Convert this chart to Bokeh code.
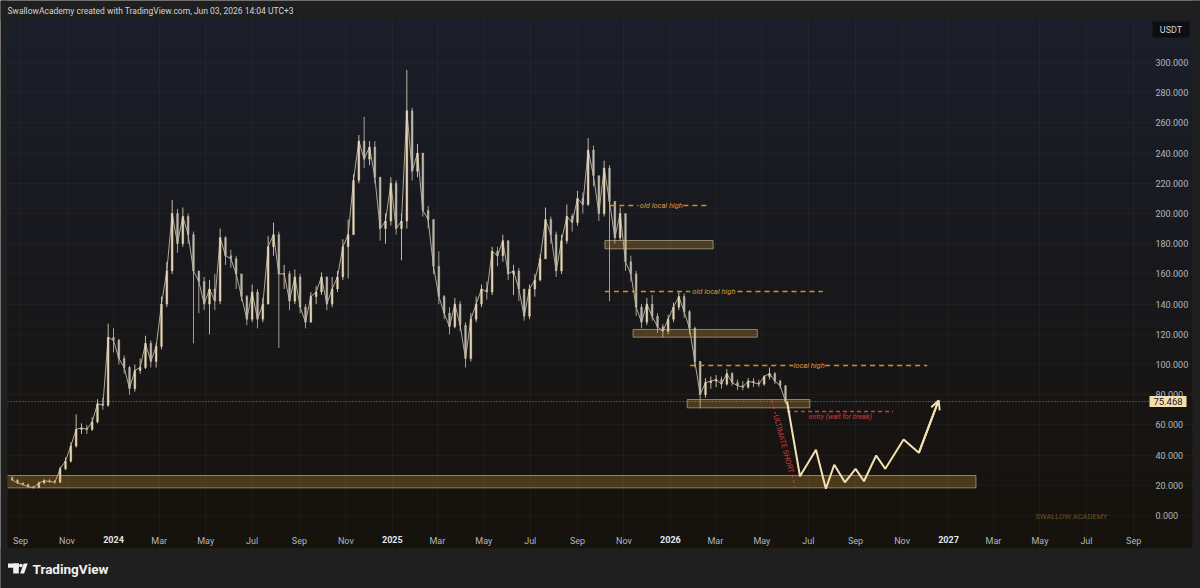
import math
import pandas as pd
from bokeh.plotting import figure
from bokeh.models import (Range1d, LinearAxis, FixedTicker, Grid, BoxAnnotation,
                          Label, Arrow, OpenHead, ColumnDataSource, PolyAnnotation)
from bokeh.core.properties import value
from bokeh.embed import file_html
from bokeh.resources import INLINE

# ---------------- data ----------------
first_week = "2023-08-21"          # weekly bars
first_open = 25.0
close = [23.5, 21.5, 20.5, 19, 18.5, 21.5, 23, 22.5, 22, 31,
         36, 46, 57, 58, 57, 62, 74, 73, 118, 116,
         104, 98, 84, 96, 98, 114, 102, 112, 140, 162,
         200, 180, 198, 186, 162, 155, 140, 150, 142, 184,
         172, 170, 160, 145, 130, 148, 130, 140, 178, 186,
         160, 160, 142, 158, 138, 128, 145, 148, 158, 140,
         150, 158, 178, 186, 222, 248, 236, 244, 224, 190,
         195, 220, 190, 195, 268, 228, 240, 202, 196, 165,
         145, 134, 125, 140, 126, 104, 130, 140, 150, 148,
         175, 172, 182, 160, 162, 150, 132, 150, 156, 170,
         196, 186, 162, 182, 198, 194, 210, 206, 242, 225,
         200, 230, 208, 184, 200, 168, 160, 138, 128, 140,
         132, 125, 122, 130, 138, 145, 135, 124, 102, 80,
         88, 89, 90, 87, 94, 88, 86, 85, 89, 88,
         87, 92, 94, 89, 86, 75.468]
high = [26, 24, 22, 21, 19.5, 22.5, 24, 24, 23.5, 32.5,
        38.5, 48.5, 67, 61, 60, 65, 77, 78, 127, 124,
        117, 106, 99, 100, 104, 119, 116, 114, 145, 168,
        209, 203, 204, 200, 188, 160, 158, 156, 160, 190,
        185, 176, 172, 160, 146, 153, 150, 144, 185, 194,
        188, 166, 162, 163, 160, 140, 148, 152, 161, 158,
        158, 162, 183, 196, 226, 252, 264, 248, 248, 224,
        200, 224, 222, 200, 295, 270, 246, 240, 205, 196,
        175, 146, 138, 144, 142, 128, 134, 145, 153, 155,
        178, 178, 186, 182, 166, 164, 150, 153, 160, 173,
        204, 198, 188, 186, 206, 200, 215, 214, 250, 245,
        225, 235, 232, 208, 204, 200, 172, 162, 140, 144,
        146, 134, 127, 133, 141, 148, 147, 136, 125, 102,
        91, 92, 93, 92, 97, 95, 90, 89, 91, 91,
        90, 93, 98, 95, 90, 86]
low = [23, 21, 20, 18.5, 17.8, 18.3, 21, 21.5, 21, 21.5,
       30, 35, 45, 54, 54, 56, 61, 70, 72, 108,
       100, 94, 80, 82, 94, 97, 98, 98, 110, 138,
       160, 174, 178, 180, 114, 134, 136, 120, 136, 140,
       166, 164, 150, 142, 126, 128, 124, 128, 140, 172,
       111, 150, 136, 140, 134, 124, 128, 140, 146, 136,
       138, 148, 156, 157, 186, 220, 230, 232, 220, 182,
       180, 192, 186, 169, 190, 222, 224, 198, 190, 160,
       140, 130, 120, 124, 122, 98, 102, 128, 138, 143,
       146, 165, 168, 156, 146, 142, 129, 130, 145, 155,
       170, 180, 158, 160, 180, 188, 192, 200, 205, 218,
       195, 198, 142, 180, 182, 162, 155, 132, 124, 126,
       129, 121, 118, 120, 128, 136, 131, 120, 98, 71,
       78, 84, 85, 84, 86, 86, 83, 83, 84, 85,
       85, 86, 90, 87, 84, 74]
last_price = 75.468

tick_dates = ["2023-09-01", "2023-11-01", "2024-01-01", "2024-03-01", "2024-05-01",
              "2024-07-01", "2024-09-01", "2024-11-01", "2025-01-01", "2025-03-01",
              "2025-05-01", "2025-07-01", "2025-09-01", "2025-11-01", "2026-01-01",
              "2026-03-01", "2026-05-01", "2026-07-01", "2026-09-01", "2026-11-01",
              "2027-01-01", "2027-03-01", "2027-05-01", "2027-07-01", "2027-09-01"]
tick_labels = ["Sep", "Nov", "2024", "Mar", "May", "Jul", "Sep", "Nov", "2025", "Mar",
               "May", "Jul", "Sep", "Nov", "2026", "Mar", "May", "Jul", "Sep", "Nov",
               "2027", "Mar", "May", "Jul", "Sep"]
price_ticks = [0, 20, 40, 60, 80, 100, 120, 140, 160, 180, 200, 220, 240, 260, 280, 300]
price_labels = ["0.000", "20.000", "40.000", "60.000", "80.000", "100.000", "120.000",
                "140.000", "160.000", "180.000", "200.000", "220.000", "240.000",
                "260.000", "280.000", "300.000"]

# rectangles (zones)
zone_left = ["2023-08-01", "2025-10-07", "2025-11-13", "2026-01-23"]
zone_right = ["2027-02-06", "2026-02-26", "2026-04-25", "2026-07-03"]
zone_top = [26.5, 182.1, 123.2, 76.8]
zone_bottom = [18.3, 176.6, 118.1, 71.3]

# horizontal levels with a text in a gap
level_text = ["old local high", "old local high", "local high"]
level_price = [205.3, 148.3, 99.3]
level_start = ["2025-10-14", "2025-10-07", "2026-01-27"]
level_end = ["2026-02-20", "2026-07-20", "2026-12-04"]
level_gap_from = ["2025-11-20", "2026-01-27", "2026-06-11"]
level_gap_to = ["2026-01-18", "2026-03-30", "2026-07-23"]
level_text_at = ["2025-12-20", "2026-02-27", "2026-07-02"]

# entry line
entry_text = "entry (wait for break)"
entry_price = 68.9
entry_start, entry_end = "2026-06-03", "2026-10-20"
entry_text_at, entry_text_price = "2026-08-12", 65.2

# ULTIMATE SHORT diagonal
short_text = "ULTIMATE SHORT"
short_dates = ["2026-05-14", "2026-06-14"]
short_price = [76.2, 18.5]
short_gap = [0.15, 0.85]

# projected path
path_dates = ["2026-06-03", "2026-06-20", "2026-07-11", "2026-07-24", "2026-08-04",
              "2026-08-18", "2026-09-01", "2026-09-12", "2026-09-28", "2026-10-10",
              "2026-11-03", "2026-11-23", "2026-12-19"]
path_price = [75.5, 26.0, 43.5, 17.7, 33.6, 22.0, 30.9, 22.7, 39.7, 30.9, 50.3, 41.5, 76.2]

header_text = "SwallowAcademy created with TradingView.com, Jun 03, 2026 14:04 UTC+3"
watermark_text = "SWALLOW ACADEMY"

# ---------------- scales (reference pixel geometry) ----------------
DAY = 86400000.0
ORIGIN = pd.Timestamp("2024-01-01").value / 1e6    # ms of the 2024 tick
PX_DAY = 0.7619          # pixels per day
PX_UNIT = 1.51           # pixels per price unit
X_ORIGIN_PX = 113.0      # 2024-01-01 on the picture
Y_ZERO_PX = 515.0        # price 0 on the picture


def ms(s):
    return pd.Timestamp(s).value / 1e6


def rx(px):   # picture x -> data x
    return ORIGIN + (px - X_ORIGIN_PX) / PX_DAY * DAY


def ry(py):   # picture y -> data y
    return (Y_ZERO_PX - py) / PX_UNIT


W, H = 1200, 588
x_start, x_end = rx(0), rx(W)
y_start, y_end = ry(H), ry(0)

chart_left, chart_right = rx(7), rx(1192)
chart_top, chart_bottom = ry(19), ry(548)
price_axis_x = rx(1148)
time_axis_y = ry(527)

GRAY = "#1f1f1f"
p = figure(width=W, height=H, output_backend="svg", toolbar_location=None,
           x_axis_type=None, y_axis_type=None,
           x_range=Range1d(x_start, x_end), y_range=Range1d(y_start, y_end),
           min_border=0, min_border_left=0, min_border_right=0,
           min_border_top=0, min_border_bottom=0,
           background_fill_color=GRAY, border_fill_color=GRAY,
           outline_line_color=None)


def hex2rgb(h):
    h = h.lstrip("#")
    return tuple(int(h[i:i + 2], 16) for i in (0, 2, 4))


def mix(c1, c2, t):
    a, b = hex2rgb(c1), hex2rgb(c2)
    return "#%02x%02x%02x" % tuple(round(a[i] + (b[i] - a[i]) * t) for i in range(3))


TOP_C, BOT_C = "#1a1e2a", "#16120c"
N = 60
step = (chart_top - chart_bottom) / N
for i in range(N):
    t = chart_top - i * step
    b = t - step
    p.add_layout(BoxAnnotation(left=chart_left, right=chart_right,
                               top=t, bottom=b - (0.6 if i < N - 1 else 0),
                               fill_color=mix(TOP_C, BOT_C, (i + 0.5) / N), fill_alpha=1.0,
                               line_color=None, level="image"))

xticks = [ms(d) for d in tick_dates]
p.add_layout(Grid(dimension=0, ticker=FixedTicker(ticks=xticks),
                  grid_line_color="#ffffff", grid_line_alpha=0.03))
p.add_layout(Grid(dimension=1, ticker=FixedTicker(ticks=price_ticks),
                  grid_line_color="#ffffff", grid_line_alpha=0.03))

# gray frame around the chart panel, on top of the grid
for kw in (dict(bottom=chart_top), dict(top=chart_bottom),
           dict(right=chart_left), dict(left=chart_right)):
    p.add_layout(BoxAnnotation(fill_color=GRAY, fill_alpha=1, line_color=None, level="glyph", **kw))

# axes (drawn inside the chart panel, like TradingView scales)
AX = dict(axis_line_color=None, major_tick_line_color=None, minor_tick_line_color=None,
          major_label_text_font="Roboto", major_label_text_font_size="9px")
is_year = [l.isdigit() for l in tick_labels]
month_axis = LinearAxis(ticker=FixedTicker(ticks=xticks),
                        major_label_overrides={t: ("" if y else l) for t, l, y in zip(xticks, tick_labels, is_year)},
                        fixed_location=time_axis_y, major_label_text_color="#b2b5be",
                        major_label_standoff=2, **AX)
p.add_layout(month_axis, "below")
year_ticks = [t for t, y in zip(xticks, is_year) if y]
year_axis = LinearAxis(ticker=FixedTicker(ticks=year_ticks),
                       major_label_overrides={t: l for t, l, y in zip(xticks, tick_labels, is_year) if y},
                       fixed_location=time_axis_y, major_label_text_color="#e3e5ea",
                       major_label_text_font_style="bold", major_label_standoff=2, **AX)
p.add_layout(year_axis, "below")
yaxis = LinearAxis(ticker=FixedTicker(ticks=price_ticks),
                   major_label_overrides={float(t): l for t, l in zip(price_ticks, price_labels)},
                   fixed_location=price_axis_x, major_label_text_color="#b2b5be",
                   major_label_standoff=1, **AX)
p.add_layout(yaxis, "right")

# candles (weekly)
dates = [ms(first_week) + 7 * DAY * i for i in range(len(close))]
opens = [first_open] + close[:-1]
UP, DOWN = "#e2d4b4", "#bdb7ab"
colors = [UP if c >= o else DOWN for o, c in zip(opens, close)]
src = ColumnDataSource(dict(x=dates, o=opens, c=close, h=high, l=low,
                            top=[max(a, b) for a, b in zip(opens, close)],
                            bot=[min(a, b) for a, b in zip(opens, close)], col=colors))
p.segment(x0="x", y0="h", x1="x", y1="l", line_color="col", line_width=1, line_alpha=0.85, source=src)
p.line(x="x", y="c", line_color="#d8ccb0", line_width=1, line_alpha=0.8, source=src)
p.vbar(x="x", width=2.2 * DAY, top="top", bottom="bot", fill_color="col", line_color="col",
       line_width=0.5, source=src)

# last price dotted line
p.segment(x0=[chart_left], y0=[last_price], x1=[price_axis_x], y1=[last_price],
          line_color="#e6d7ae", line_alpha=0.6, line_width=1, line_dash="1 2")

# zones
p.quad(left=[ms(d) for d in zone_left], right=[ms(d) for d in zone_right],
       top=zone_top, bottom=zone_bottom, fill_color="#f2b53a", fill_alpha=0.24,
       line_color="#cfc3a6", line_alpha=0.6, line_width=1)

# level lines
ORANGE = "#d88c22"
ORANGE_TXT = "#d99a38"
lx0, lx1, ly = [], [], []
for s, gf, gt, e, v in zip(level_start, level_gap_from, level_gap_to, level_end, level_price):
    lx0 += [ms(s), ms(gt)]
    lx1 += [ms(gf), ms(e)]
    ly += [v, v]
p.segment(x0=lx0, y0=ly, x1=lx1, y1=ly, line_color=ORANGE, line_width=1.4, line_dash="5 4")
p.text(x=[ms(d) for d in level_text_at], y=level_price, text=level_text,
       text_font=value("Roboto"), text_font_style="italic", text_font_size="7.5px",
       text_color=ORANGE_TXT, text_align="center", text_baseline="middle")

# entry line
RED = "#d23c3c"
p.segment(x0=[ms(entry_start)], y0=[entry_price], x1=[ms(entry_end)], y1=[entry_price],
          line_color=RED, line_width=1.4, line_dash="4 3")
p.text(x=[ms(entry_text_at)], y=[entry_text_price], text=[entry_text],
       text_font=value("Roboto"), text_font_style="italic", text_font_size="7px",
       text_color=RED, text_align="center", text_baseline="middle")

# ULTIMATE SHORT diagonal
sx0, sx1 = ms(short_dates[0]), ms(short_dates[1])
sy0, sy1 = short_price
ga, gb = short_gap
p.segment(x0=[sx0, sx0 + (sx1 - sx0) * gb], y0=[sy0, sy0 + (sy1 - sy0) * gb],
          x1=[sx0 + (sx1 - sx0) * ga, sx1], y1=[sy0 + (sy1 - sy0) * ga, sy1],
          line_color=RED, line_width=1.2, line_dash="3 3")
ang = math.degrees(math.atan2((sy1 - sy0) * PX_UNIT, (sx1 - sx0) / DAY * PX_DAY))
p.text(x=[(sx0 + sx1) / 2], y=[(sy0 + sy1) / 2], text=[short_text], angle=ang, angle_units="deg",
       text_font=value("Roboto"), text_font_size="7.5px",
       text_color=RED, text_align="center", text_baseline="middle")

# projected path
CREAM = "#f3e2b1"
px_ = [ms(d) for d in path_dates]
p.line(x=px_, y=path_price, line_color=CREAM, line_width=2)
p.add_layout(Arrow(end=OpenHead(size=9, line_color=CREAM, line_width=2),
                   x_start=px_[-2], y_start=path_price[-2], x_end=px_[-1], y_end=path_price[-1],
                   line_color=CREAM, line_width=2))

# watermark
p.add_layout(Label(x=rx(1071), y=ry(516), text=watermark_text, text_color="#6b5224",
                   text_font="Roboto", text_font_size="7.5px", text_align="center",
                   text_baseline="middle"))

# last price tag on the scale
p.add_layout(BoxAnnotation(left=rx(1149), right=rx(1186), top=last_price + 5.5 / PX_UNIT,
                           bottom=last_price - 5.5 / PX_UNIT, fill_color="#f6dfae", fill_alpha=1,
                           line_color=None))
p.add_layout(Label(x=rx(1167.5), y=last_price, text="75.468", text_color="#131722",
                   text_font="Roboto", text_font_size="9.5px", text_align="center",
                   text_baseline="middle"))

# currency box
p.add_layout(BoxAnnotation(left=rx(1152), right=rx(1189), top=ry(21), bottom=ry(37),
                           fill_color="#0e0e0e", fill_alpha=1, line_color=None))
p.add_layout(Label(x=rx(1170.5), y=ry(29), text="USDT", text_color="#d1d4dc",
                   text_font="Roboto", text_font_size="9px", text_align="center",
                   text_baseline="middle"))

# header
p.add_layout(Label(x=rx(7), y=ry(10.5), text=header_text, text_color="#d1d4dc",
                   text_font="Roboto", text_font_size="8.5px", text_align="left",
                   text_baseline="middle"))

# footer logo + name
LOGO = "#f0f0f0"
p.add_layout(BoxAnnotation(left=rx(7.5), right=rx(18.3), top=ry(563), bottom=ry(567.3),
                           fill_color=LOGO, fill_alpha=1, line_color=None, level="overlay"))
p.add_layout(BoxAnnotation(left=rx(12.7), right=rx(18.3), top=ry(563), bottom=ry(573),
                           fill_color=LOGO, fill_alpha=1, line_color=None, level="overlay"))
dot_x = [rx(20.4 + 1.8 * math.cos(k * math.pi / 6)) for k in range(12)]
dot_y = [ry(565 + 1.8 * math.sin(k * math.pi / 6)) for k in range(12)]
p.add_layout(PolyAnnotation(xs=dot_x, ys=dot_y, fill_color=LOGO, fill_alpha=1, line_color=None,
                            level="overlay"))
p.add_layout(PolyAnnotation(xs=[rx(19.6), rx(23.6), rx(27.2), rx(23.2)],
                            ys=[ry(573), ry(573), ry(563), ry(563)],
                            fill_color=LOGO, fill_alpha=1, line_color=None, level="overlay"))
p.add_layout(Label(x=rx(32), y=ry(568), text="TradingView", text_color="#f0f0f0",
                   text_font="Roboto", text_font_size="13.5px", text_font_style="bold",
                   text_align="left", text_baseline="middle"))

html = file_html(p, INLINE, title="chart")
html = html.replace("<body>", '<body style="background-color:#1f1f1f;">', 1)
open("out.html", "w").write(html)
